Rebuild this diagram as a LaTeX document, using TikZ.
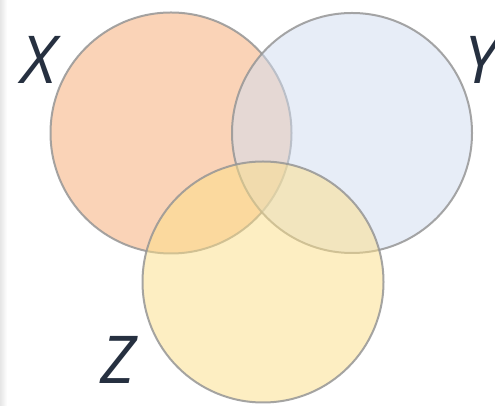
\documentclass[tikz,border=0pt]{standalone}
\usepackage{fontspec}
\setmainfont{Open Sans}
\definecolor{cx}{RGB}{247,169,113}
\definecolor{cy}{RGB}{209,221,241}
\definecolor{cz}{RGB}{253,223,135}
\definecolor{edge}{RGB}{150,150,150}
\definecolor{lab}{RGB}{38,48,64}
\begin{document}
\begin{tikzpicture}[x=1pt,y=1pt,
  setc/.style={draw=edge,line width=2pt,fill opacity=0.5,draw opacity=0.85},
  setlabel/.style={text=lab,font=\fontsize{66}{66}\selectfont\itshape,inner sep=0pt}]
\useasboundingbox (0,0) rectangle (495,406);
\fill[white] (0,0) rectangle (495,406);
\shade[left color=black!10,right color=white] (0,0) rectangle (7,406);
\path[setc,fill=cx] (171,273) circle (120.5);
\path[setc,fill=cy] (352,273) circle (120);
\path[setc,fill=cz] (263,124) circle (120.5);
\node[setlabel] (lx) at (39,346) {X};
\node[setlabel] (ly) at (481,346) {Y};
\node[setlabel] (lz) at (118,46) {Z};
\end{tikzpicture}
\end{document}
